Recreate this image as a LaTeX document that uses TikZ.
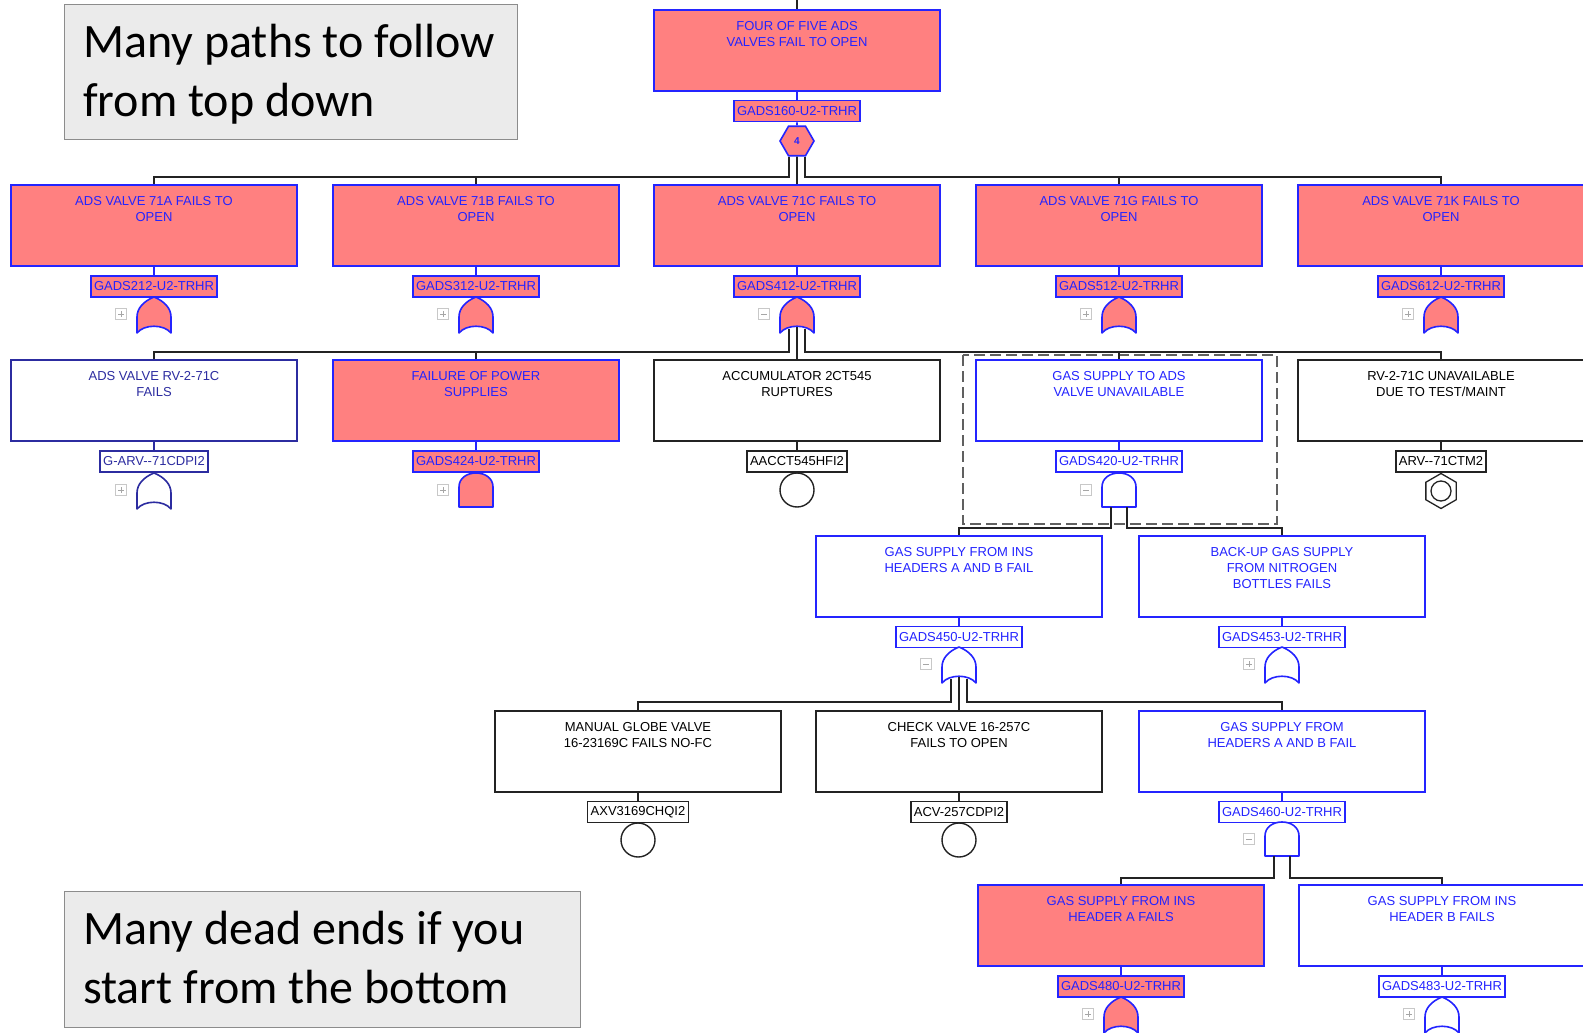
\documentclass[tikz,border=0pt]{standalone}
\usepackage{fontspec}
\setmainfont{Liberation Sans}
\newfontfamily\notefont{Carlito}
\usetikzlibrary{shapes.geometric,calc}

\definecolor{evpink}{RGB}{255,128,128}
\definecolor{evblue}{RGB}{36,36,255}
\definecolor{evnavy}{RGB}{44,44,160}
\definecolor{wirec}{RGB}{35,35,35}
\definecolor{notefill}{RGB}{235,235,235}
\definecolor{noteedge}{RGB}{140,140,140}
\definecolor{togglec}{RGB}{200,200,200}

\tikzset{
  evbox/.style={rectangle, minimum width=286pt, minimum height=81pt, inner sep=0pt, line width=1.6pt},
  pinkev/.style={evbox, draw=evblue, fill=evpink},
  blueev/.style={evbox, draw=evblue, fill=white},
  navyev/.style={evbox, draw=evnavy, fill=white},
  blackev/.style={evbox, draw=wirec, fill=white},
  desc/.style={inner sep=0pt, align=center, anchor=north, yshift=-12pt,
    font=\fontsize{13}{16}\selectfont},
  btxt/.style={label={[desc, text=evblue]north:{#1}}},
  ntxt/.style={label={[desc, text=evnavy]north:{#1}}},
  ktxt/.style={label={[desc, text=black]north:{#1}}},
  tag/.style={rectangle, inner xsep=3pt, inner ysep=0pt, minimum height=21pt,
    line width=1.6pt, font=\fontsize{13}{15}\selectfont},
  pinktag/.style={tag, draw=evblue, fill=evpink, text=evblue},
  bluetag/.style={tag, draw=evblue, fill=white, text=evblue},
  navytag/.style={tag, draw=evnavy, fill=white, text=evnavy},
  blacktag/.style={tag, draw=wirec, fill=white, text=black},
  link/.style={draw=wirec, line width=1.6pt},
  bluelink/.style={draw=evblue, line width=1.6pt},
  navylink/.style={draw=evnavy, line width=1.6pt},
  basic/.style={circle, draw=wirec, fill=white, line width=1.4pt, minimum size=34pt, inner sep=0pt},
  orgate/.pic={
    \path[pic actions, line width=1.6pt, line join=round]
      (0,0) .. controls (10,4) and (17,11) .. (17,20) -- (17,36)
      .. controls (10,27) and (-10,27) .. (-17,36) -- (-17,20)
      .. controls (-17,11) and (-10,4) .. (0,0) -- cycle;
    \coordinate (-top) at (0,0);
    \coordinate (-l) at (-8,31.5);
    \coordinate (-c) at (0,29.5);
    \coordinate (-r) at (8,31.5);
  },
  andgate/.pic={
    \path[pic actions, line width=1.6pt, line join=round]
      (-17,34) -- (-17,14) .. controls (-17,5) and (-9,0) .. (0,0)
      .. controls (9,0) and (17,5) .. (17,14) -- (17,34) -- cycle;
    \coordinate (-top) at (0,0);
    \coordinate (-l) at (-8,34);
    \coordinate (-r) at (8,34);
  },
  plusbox/.pic={
    \draw[togglec, fill=white, line width=1pt] (-5.5,-5.5) rectangle (5.5,5.5);
    \draw[gray!70, line width=0.9pt] (-3,0) -- (3,0) (0,-3) -- (0,3);
  },
  minusbox/.pic={
    \draw[togglec, fill=white, line width=1pt] (-5.5,-5.5) rectangle (5.5,5.5);
    \draw[gray!70, line width=0.9pt] (-3,0) -- (3,0);
  },
  notebox/.style={rectangle, draw=noteedge, fill=notefill, line width=1.3pt, inner sep=0pt},
  notetext/.style={inner sep=0pt, align=left, text=black,
    font=\notefont\fontsize{48}{59}\selectfont},
}

\begin{document}
\begin{tikzpicture}[x=1pt, y=-1pt]
\useasboundingbox (0,0) rectangle (1583,1033);
\clip (0,0) rectangle (1583,1033);
\fill[white] (0,0) rectangle (1583,1033);

% ---- bus heights ----
\coordinate (y1) at (0,177);
\coordinate (y2) at (0,352);
\coordinate (y3) at (0,528);
\coordinate (y4) at (0,702);
\coordinate (y5) at (0,878);
\coordinate (feed) at (797,0);

% ---- group frame around the gas supply gate ----
\draw[gray!75!black, line width=1.3pt, dash pattern=on 11pt off 5pt] (963,355) rectangle (1277,524);

% ---- top event ----
\node[pinkev, btxt={FOUR OF FIVE ADS\\VALVES FAIL TO OPEN}] (b0) at (797,50.5) {};
\node[pinktag] (t0) at (797,111) {GADS160-U2-TRHR};
\node[regular polygon, regular polygon sides=6, minimum size=34pt, inner sep=0pt,
      draw=evblue, fill=evpink, line width=1.6pt, text=evblue,
      font=\fontsize{10}{10}\selectfont\bfseries] (g0) at (797,141) {4};
\coordinate (g0L) at ($(g0.south)+(-8,0)$);
\coordinate (g0R) at ($(g0.south)+(8,0)$);
\draw[link] (feed) -- (b0.north);
\draw[bluelink] (b0.south) -- (t0.north);
\draw[bluelink] (t0.south) -- (g0.north);

% ---- row 1 ----
\node[pinkev, btxt={ADS VALVE 71A FAILS TO\\OPEN}] (b11) at (154,225.5) {};
\node[pinkev, btxt={ADS VALVE 71B FAILS TO\\OPEN}] (b12) at (476,225.5) {};
\node[pinkev, btxt={ADS VALVE 71C FAILS TO\\OPEN}] (b13) at (797,225.5) {};
\node[pinkev, btxt={ADS VALVE 71G FAILS TO\\OPEN}] (b14) at (1119,225.5) {};
\node[pinkev, btxt={ADS VALVE 71K FAILS TO\\OPEN}] (b15) at (1441,225.5) {};
\node[pinktag] (t11) at (154,286.5) {GADS212-U2-TRHR};
\node[pinktag] (t12) at (476,286.5) {GADS312-U2-TRHR};
\node[pinktag] (t13) at (797,286.5) {GADS412-U2-TRHR};
\node[pinktag] (t14) at (1119,286.5) {GADS512-U2-TRHR};
\node[pinktag] (t15) at (1441,286.5) {GADS612-U2-TRHR};
\foreach \k in {11,12,13,14,15} {\draw[bluelink] (b\k.south) -- (t\k.north);}
\pic[draw=evblue, fill=evpink] (g11) at (154,297) {orgate};
\pic[draw=evblue, fill=evpink] (g12) at (476,297) {orgate};
\pic[draw=evblue, fill=evpink] (g13) at (797,297) {orgate};
\pic[draw=evblue, fill=evpink] (g14) at (1119,297) {orgate};
\pic[draw=evblue, fill=evpink] (g15) at (1441,297) {orgate};
\pic (s11) at (121,314) {plusbox};
\pic (s12) at (443,314) {plusbox};
\pic (s13) at (764,314) {minusbox};
\pic (s14) at (1086,314) {plusbox};
\pic (s15) at (1408,314) {plusbox};

\draw[link] (g0L) |- (y1 -| b11.north) -- (b11.north);
\draw[link] (y1 -| b12.north) -- (b12.north);
\draw[link] (g0.south) -- (b13.north);
\draw[link] (g0R) |- (y1 -| b15.north) -- (b15.north);
\draw[link] (y1 -| b14.north) -- (b14.north);

% ---- row 2 ----
\node[navyev, ntxt={ADS VALVE RV-2-71C\\FAILS}] (b21) at (154,400.5) {};
\node[pinkev, btxt={FAILURE OF POWER\\SUPPLIES}] (b22) at (476,400.5) {};
\node[blackev, ktxt={ACCUMULATOR 2CT545\\RUPTURES}] (b23) at (797,400.5) {};
\node[blueev, btxt={GAS SUPPLY TO ADS\\VALVE UNAVAILABLE}] (b24) at (1119,400.5) {};
\node[blackev, ktxt={RV-2-71C UNAVAILABLE\\DUE TO TEST/MAINT}] (b25) at (1441,400.5) {};
\node[navytag] (t21) at (154,461.5) {G-ARV-{}-71CDPI2};
\node[pinktag] (t22) at (476,461.5) {GADS424-U2-TRHR};
\node[blacktag] (t23) at (797,461.5) {AACCT545HFI2};
\node[bluetag] (t24) at (1119,461.5) {GADS420-U2-TRHR};
\node[blacktag] (t25) at (1441,461.5) {ARV-{}-71CTM2};
\draw[navylink] (b21.south) -- (t21.north);
\draw[bluelink] (b22.south) -- (t22.north);
\draw[link] (b23.south) -- (t23.north);
\draw[bluelink] (b24.south) -- (t24.north);
\draw[link] (b25.south) -- (t25.north);
\pic[draw=evnavy, fill=white] (g21) at (154,473) {orgate};
\pic[draw=evblue, fill=evpink] (g22) at (476,473) {andgate};
\node[basic] (e23) at (797,490) {};
\pic[draw=evblue, fill=white] (g24) at (1119,473) {andgate};
\node[regular polygon, regular polygon sides=6, shape border rotate=90, minimum size=35pt,
      inner sep=0pt, draw=wirec, fill=white, line width=1.3pt] (e25) at (1441,491) {};
\draw[wirec, line width=1.3pt] (e25.center) circle[radius=10pt];
\pic (s21) at (121,490) {plusbox};
\pic (s22) at (443,490) {plusbox};
\pic (s24) at (1086,490) {minusbox};

\draw[link] (g13-l) |- (y2 -| b21.north) -- (b21.north);
\draw[link] (y2 -| b22.north) -- (b22.north);
\draw[link] (g13-c) -- (b23.north);
\draw[link] (g13-r) |- (y2 -| b25.north) -- (b25.north);
\draw[link] (y2 -| b24.north) -- (b24.north);

% ---- row 3 ----
\node[blueev, btxt={GAS SUPPLY FROM INS\\HEADERS A AND B FAIL}] (b31) at (959,576.5) {};
\node[blueev, btxt={BACK-UP GAS SUPPLY\\FROM NITROGEN\\BOTTLES FAILS}] (b32) at (1282,576.5) {};
\node[bluetag] (t31) at (959,637) {GADS450-U2-TRHR};
\node[bluetag] (t32) at (1282,637) {GADS453-U2-TRHR};
\draw[bluelink] (b31.south) -- (t31.north);
\draw[bluelink] (b32.south) -- (t32.north);
\pic[draw=evblue, fill=white] (g31) at (959,647) {orgate};
\pic[draw=evblue, fill=white] (g32) at (1282,647) {orgate};
\pic (s31) at (926,664) {minusbox};
\pic (s32) at (1249,664) {plusbox};

\draw[link] (g24-l) |- (y3 -| b31.north) -- (b31.north);
\draw[link] (g24-r) |- (y3 -| b32.north) -- (b32.north);

% ---- row 4 ----
\node[blackev, ktxt={MANUAL GLOBE VALVE\\16-23169C FAILS NO-FC}] (b41) at (638,751.5) {};
\node[blackev, ktxt={CHECK VALVE 16-257C\\FAILS TO OPEN}] (b42) at (959,751.5) {};
\node[blueev, btxt={GAS SUPPLY FROM\\HEADERS A AND B FAIL}] (b43) at (1282,751.5) {};
\node[blacktag] (t41) at (638,812) {AXV3169CHQI2};
\node[blacktag] (t42) at (959,812) {ACV-257CDPI2};
\node[bluetag] (t43) at (1282,812) {GADS460-U2-TRHR};
\draw[link] (b41.south) -- (t41.north);
\draw[link] (b42.south) -- (t42.north);
\draw[bluelink] (b43.south) -- (t43.north);
\node[basic] (e41) at (638,840) {};
\node[basic] (e42) at (959,840) {};
\pic[draw=evblue, fill=white] (g43) at (1282,822) {andgate};
\pic (s43) at (1249,839) {minusbox};

\draw[link] (g31-l) |- (y4 -| b41.north) -- (b41.north);
\draw[link] (g31-c) -- (b42.north);
\draw[link] (g31-r) |- (y4 -| b43.north) -- (b43.north);

% ---- row 5 ----
\node[pinkev, btxt={GAS SUPPLY FROM INS\\HEADER A FAILS}] (b51) at (1121,925.5) {};
\node[blueev, btxt={GAS SUPPLY FROM INS\\HEADER B FAILS}] (b52) at (1442,925.5) {};
\node[pinktag] (t51) at (1121,986.5) {GADS480-U2-TRHR};
\node[bluetag] (t52) at (1442,986.5) {GADS483-U2-TRHR};
\draw[bluelink] (b51.south) -- (t51.north);
\draw[bluelink] (b52.south) -- (t52.north);
\pic[draw=evblue, fill=evpink] (g51) at (1121,997) {orgate};
\pic[draw=evblue, fill=white] (g52) at (1442,997) {orgate};
\pic (s51) at (1088,1014) {plusbox};
\pic (s52) at (1409,1014) {plusbox};

\draw[link] (g43-l) |- (y5 -| b51.north) -- (b51.north);
\draw[link] (g43-r) |- (y5 -| b52.north) -- (b52.north);

% ---- notes ----
\node[notebox, minimum width=453pt, minimum height=135pt, anchor=north west] (n1) at (64,4) {};
\node[notetext, anchor=base west] (n1t) at (83,116.6) {Many paths to follow\\from top down};
\node[notebox, minimum width=516pt, minimum height=136pt, anchor=north west] (n2) at (64,891) {};
\node[notetext, anchor=base west] (n2t) at (83,1003.5) {Many dead ends if you\\start from the bottom};
\end{tikzpicture}
\end{document}
